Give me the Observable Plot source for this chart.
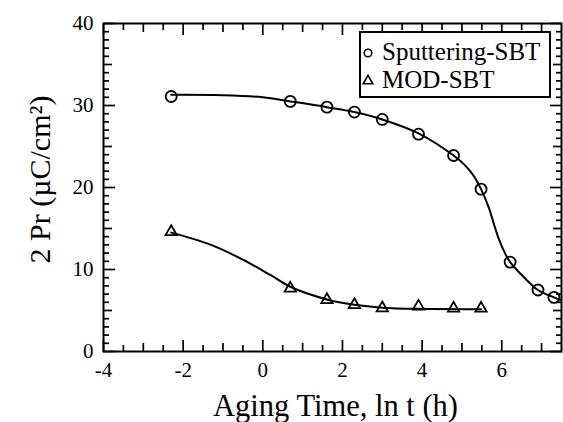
<!DOCTYPE html>
<html><head><meta charset="utf-8">
<script src="https://cdn.jsdelivr.net/npm/d3@7"></script>
<script src="https://cdn.jsdelivr.net/npm/@observablehq/plot@0.6"></script>
<style>
body{margin:0;background:#fff;}
#wrap{position:relative;width:563px;height:422px;}
#legend{position:absolute;left:359px;top:31px;width:188px;height:63px;border:2px solid #000;background:#fff;font-family:"Liberation Serif","Times New Roman",serif;font-size:25px;color:#000;}
#legend .t{position:absolute;line-height:25px;white-space:nowrap;}
#legend svg{position:absolute;overflow:visible;}
</style>
</head><body>
<div id="wrap"></div>
<script>
// Measured points (x = ln t in hours, y = 2Pr in µC/cm²)
const sputX = [-2.30, 0.69, 1.61, 2.30, 3.00, 3.91, 4.79, 5.48, 6.21, 6.91, 7.31];
const sputY = [31.1, 30.5, 29.8, 29.2, 28.3, 26.5, 23.9, 19.8, 10.9, 7.5, 6.6];
const modX = [-2.30, 0.69, 1.61, 2.30, 3.00, 3.91, 4.79, 5.48];
const modY = [14.6, 7.7, 6.3, 5.7, 5.3, 5.5, 5.25, 5.25];

// Fitted curves
const sputFitX = [-2.30, -1.0, 0.0, 0.69, 1.61, 2.30, 3.00, 3.91, 4.79, 5.08, 5.29, 5.48, 5.67, 5.80, 5.92, 6.09, 6.21, 6.60, 6.91, 7.31, 7.48];
const sputFitY = [31.3, 31.25, 31.0, 30.5, 29.8, 29.2, 28.3, 26.6, 23.9, 22.7, 21.45, 19.8, 17.6, 15.6, 13.8, 11.9, 10.9, 8.85, 7.5, 6.6, 6.3];
const modFitX = [-2.30, -1.30, -0.50, 0.20, 0.69, 1.61, 2.30, 3.00, 3.91, 5.48];
const modFitY = [14.5, 13.0, 11.2, 9.3, 7.9, 6.35, 5.7, 5.35, 5.2, 5.15];

// Tick values
const xMajor = [-4, -2, 0, 2, 4, 6];
const xMedium = [-3, -1, 1, 3, 5, 7];
const xMinor = [-3.5, -2.5, -1.5, -0.5, 0.5, 1.5, 2.5, 3.5, 4.5, 5.5, 6.5];
const yMajor = [0, 10, 20, 30, 40];
const yMedium = [5, 15, 25, 35];
const yMinor = d3.range(1, 40).filter(v => v % 5 !== 0);

const xLabel = "Aging Time, ln t (h)";
const yLabel = "2 Pr (µC/cm²)";
const seriesNames = ["Sputtering-SBT", "MOD-SBT"];

const sput = sputX.map((x, i) => ({x, y: sputY[i]}));
const mod = modX.map((x, i) => ({x, y: modY[i]}));
const sputFit = sputFitX.map((x, i) => ({x, y: sputFitY[i]}));
const modFit = modFitX.map((x, i) => ({x, y: modFitY[i]}));

const blank = () => "";
const tickW = 1.7;
function xTicks(vals, size) {
  return [
    Plot.axisX(vals, {anchor: "bottom", tickSize: -size, tickFormat: blank, label: null, strokeWidth: tickW}),
    Plot.axisX(vals, {anchor: "top", tickSize: -size, tickFormat: blank, label: null, strokeWidth: tickW})
  ];
}
function yTicks(vals, size) {
  return [
    Plot.axisY(vals, {anchor: "left", tickSize: -size, tickFormat: blank, label: null, strokeWidth: tickW}),
    Plot.axisY(vals, {anchor: "right", tickSize: -size, tickFormat: blank, label: null, strokeWidth: tickW})
  ];
}

const chart = Plot.plot({
  width: 563,
  height: 422,
  marginLeft: 103,
  marginRight: 2,
  marginTop: 23,
  marginBottom: 71,
  style: {fontFamily: "'Liberation Serif', 'Times New Roman', serif", fontSize: "21px", background: "white", color: "black", overflow: "visible"},
  x: {domain: [-4, 7.5]},
  y: {domain: [0, 40]},
  marks: [
    ...xTicks(xMajor, 11), ...xTicks(xMedium, 8), ...xTicks(xMinor, 6),
    ...yTicks(yMajor, 12), ...yTicks(yMedium, 9), ...yTicks(yMinor, 6),
    Plot.axisX(xMajor, {anchor: "bottom", tickSize: 0, tickPadding: 11, tickFormat: d => String(d), label: null, fontSize: 21}),
    Plot.axisY(yMajor, {anchor: "left", tickSize: 0, tickPadding: 10, tickFormat: d => String(d), label: null, fontSize: 21}),
    Plot.frame({strokeWidth: 2}),
    Plot.line(sputFit, {x: "x", y: "y", curve: "catmull-rom", strokeWidth: 2}),
    Plot.line(modFit, {x: "x", y: "y", curve: "catmull-rom", strokeWidth: 2}),
    Plot.dot(sput, {x: "x", y: "y", symbol: "circle", r: 5.5, stroke: "black", fill: "none", strokeWidth: 1.8}),
    Plot.dot(mod, {x: "x", y: "y", symbol: "triangle", r: 4.2, stroke: "black", fill: "none", strokeWidth: 1.8}),
    Plot.text([xLabel], {text: d => d, frameAnchor: "bottom", textAnchor: "middle", lineAnchor: "middle", dx: 3, dy: 55, fontSize: 30.5}),
    Plot.text([yLabel], {text: d => d, frameAnchor: "left", textAnchor: "middle", lineAnchor: "middle", rotate: -90, dx: -63, dy: -8, fontSize: 30})
  ]
});
document.getElementById("wrap").appendChild(chart);

// Legend (inside the plot, upper right)
const lg = document.createElement("div");
lg.id = "legend";
lg.innerHTML = `
  <svg style="left:7px;top:20px" width="1" height="1"><circle cx="0" cy="0" r="3.8" fill="none" stroke="black" stroke-width="1.6"/></svg>
  <div class="t" style="left:21px;top:6px">${seriesNames[0]}</div>
  <svg style="left:7px;top:48px" width="1" height="1"><path d="${d3.symbol(d3.symbolTriangle, 40)()}" fill="none" stroke="black" stroke-width="1.6"/></svg>
  <div class="t" style="left:21px;top:34px">${seriesNames[1]}</div>`;
document.getElementById("wrap").appendChild(lg);
</script>
</body></html>
